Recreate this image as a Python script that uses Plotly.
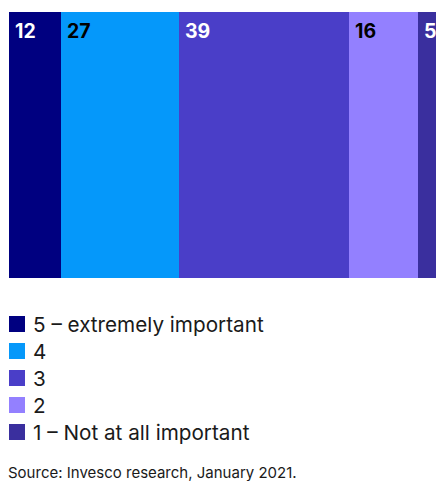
import plotly.graph_objects as go

categories = ["5 – extremely important", "4", "3", "2", "1 – Not at all important"]
values = [12, 27, 39, 16, 5]
colors = ["#000080", "#0598FA", "#4A3EC8", "#9380FF", "#3A2F9E"]
label_colors = ["white", "black", "white", "black", "white"]
source = "Source: Invesco research, January 2021."

W, H = 436, 481
ML, MR, MT, MB = 9, 0, 12, 203
ph = H - MT - MB

fig = go.Figure()
for cat, v, c in zip(categories, values, colors):
    fig.add_trace(go.Bar(x=[v], y=[0], orientation="h", name=cat,
                         marker=dict(color=c, line=dict(width=0)),
                         showlegend=False, hoverinfo="name+x"))

annotations = []
start = 0
for v, lc in zip(values, label_colors):
    annotations.append(dict(x=start, y=0.5, xref="x", yref="y", text=f"<b>{v}</b>",
                            showarrow=False, xanchor="left", yanchor="top",
                            xshift=4, yshift=-5,
                            font=dict(family="Inter", size=19.5, color=lc)))
    start += v

shapes = []
row0 = 324
for i, (cat, c) in enumerate(zip(categories, colors)):
    yc = row0 + 27 * i
    y0p = (MT + ph - (yc - 8)) / ph
    y1p = (MT + ph - (yc + 8)) / ph
    shapes.append(dict(type="rect", xref="paper", yref="paper",
                       x0=0, x1=16 / (W - ML - MR), y0=y1p, y1=y0p,
                       fillcolor=c, line=dict(width=0)))
    annotations.append(dict(x=22 / (W - ML - MR), y=(MT + ph - yc) / ph, xref="paper", yref="paper",
                            text=cat, showarrow=False, xanchor="left", yanchor="middle",
                            font=dict(family="Inter", size=20.7, color="#1a1a1a")))

annotations.append(dict(x=0, y=(MT + ph - 472) / ph, xref="paper", yref="paper",
                        text=source, showarrow=False, xanchor="left", yanchor="middle",
                        xshift=-3,
                        font=dict(family="Inter", size=15, color="#1a1a1a")))

fig.update_layout(
    width=W, height=H, margin=dict(l=ML, r=MR, t=MT, b=MB),
    barmode="stack", bargap=0,
    paper_bgcolor="white", plot_bgcolor="white",
    xaxis=dict(range=[0, 98.1], visible=False, fixedrange=True),
    yaxis=dict(range=[-0.5, 0.5], visible=False, fixedrange=True),
    annotations=annotations, shapes=shapes, showlegend=False,
)

fig.write_html("out.html")
